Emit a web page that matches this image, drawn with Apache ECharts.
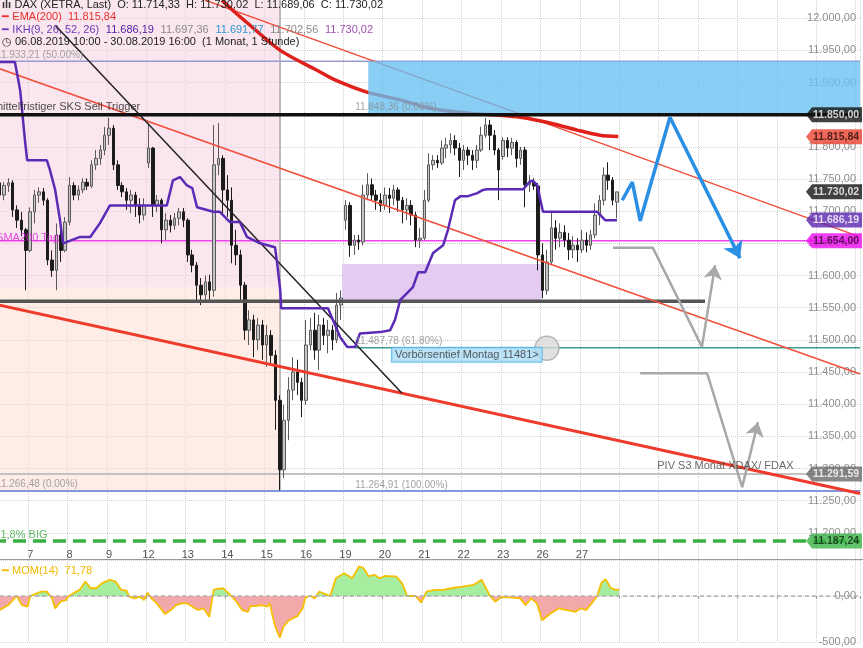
<!DOCTYPE html>
<html><head><meta charset="utf-8">
<script src="https://cdn.jsdelivr.net/npm/echarts@6/dist/echarts.min.js"></script>
<style>html,body{margin:0;padding:0;background:#fff}#c{width:863px;height:648px}</style>
</head><body><div id="c"></div><script>
const FONT = '"Liberation Sans", Arial, sans-serif';
const N_CATS = 198;
const tradingDays = ['06.08','07.08','08.08','09.08','12.08','13.08','14.08','15.08','16.08','19.08','20.08','21.08','22.08','23.08','26.08','27.08','28.08','29.08','30.08','02.09','03.09','04.09','05.09'];
const sessionHours = ['09:00','10:00','11:00','12:00','13:00','14:00','15:00','16:00','17:00'];
const firstDayHours = ['10:00','11:00','12:00','13:00','14:00','15:00','16:00','17:00'];
const labeledDays = ['07.08','08.08','09.08','12.08','13.08','14.08','15.08','16.08','19.08','20.08','21.08','22.08','23.08','26.08','27.08'];

const opens = [11733,11744,11725,11740,11744,11702,11686,11671,
11639,11699,11725,11730,11717,11624,11608,11663,11639,
11683,11740,11725,11733,11745,11739,11772,11782,11795,
11818,11829,11772,11740,11730,11717,11725,11709,11694,
11775,11798,11709,11717,11671,11686,11678,11689,11699,
11686,11632,11616,11585,11570,11590,11577,11772,11782,
11733,11717,11647,11632,11585,11515,11531,11500,11523,
11492,11507,11476,11406,11298,11375,11422,11450,11434,
11406,11492,11515,11484,11523,11507,11515,11500,11554,
11686,11709,11647,11655,11652,11725,11741,11725,11717,
11709,11725,11720,11733,11717,11702,11709,11694,11655,
11658,11717,11772,11779,11775,11798,11803,11810,11798,
11779,11795,11787,11779,11795,11818,11834,11818,11795,
11785,11810,11798,11807,11782,11795,11741,11745,11739,
11632,11577,11621,11674,11658,11667,11655,11640,11647,
11640,11655,11647,11663,11694,11717,11756,11748,11714];
const closes = [11744,11725,11740,11744,11702,11686,11671,11639,
11699,11725,11730,11717,11624,11608,11663,11639,11683,
11740,11725,11733,11745,11739,11772,11782,11795,11818,
11829,11772,11740,11730,11717,11725,11709,11694,11709,
11798,11709,11717,11671,11686,11678,11689,11699,11686,
11632,11616,11585,11570,11590,11577,11772,11782,11733,
11717,11647,11632,11585,11515,11531,11500,11523,11492,
11507,11476,11406,11298,11375,11422,11450,11434,11406,
11492,11515,11484,11523,11507,11515,11500,11554,11565,
11709,11647,11655,11652,11725,11741,11725,11717,11709,
11725,11720,11733,11717,11702,11709,11694,11655,11658,
11717,11772,11779,11775,11798,11803,11810,11798,11779,
11795,11787,11779,11795,11818,11834,11818,11795,11764,
11810,11798,11807,11782,11795,11741,11745,11739,11632,
11577,11621,11674,11658,11667,11655,11640,11647,11640,
11655,11647,11663,11694,11717,11756,11748,11717,11730];
const lows = [11725,11717,11717,11730,11691,11674,11661,11577,
11636,11681,11713,11709,11616,11598,11577,11621,11636,
11678,11717,11717,11728,11733,11736,11764,11772,11787,
11803,11764,11733,11722,11702,11697,11691,11681,11686,
11767,11691,11699,11650,11655,11667,11671,11678,11675,
11621,11605,11562,11554,11562,11562,11567,11756,11694,
11691,11619,11616,11562,11500,11492,11473,11484,11469,
11458,11461,11360,11266,11285,11344,11406,11414,11380,
11399,11484,11469,11453,11492,11479,11484,11495,11531,
11671,11629,11632,11640,11647,11717,11717,11702,11699,
11702,11697,11709,11699,11681,11686,11678,11644,11643,
11655,11714,11764,11767,11772,11782,11790,11787,11753,
11764,11772,11764,11767,11792,11814,11795,11787,11717,
11780,11784,11787,11768,11772,11706,11730,11733,11608,
11565,11570,11616,11640,11644,11644,11624,11627,11621,
11635,11636,11640,11658,11678,11709,11733,11709,11689];
const highs = [11751,11748,11745,11751,11748,11709,11699,11674,
11706,11733,11737,11736,11720,11639,11681,11678,11691,
11753,11745,11740,11751,11751,11779,11795,11803,11831,
11845,11834,11779,11745,11736,11733,11730,11720,11720,
11837,11800,11725,11720,11697,11694,11697,11705,11705,
11689,11640,11621,11596,11600,11601,11834,11837,11787,
11756,11737,11671,11640,11590,11546,11539,11534,11531,
11523,11515,11484,11414,11399,11442,11473,11469,11441,
11531,11534,11542,11539,11534,11531,11523,11573,11577,
11717,11714,11663,11663,11741,11759,11751,11733,11728,
11737,11736,11741,11737,11722,11720,11717,11699,11674,
11733,11790,11787,11787,11810,11814,11821,11818,11806,
11803,11800,11795,11803,11831,11845,11842,11826,11798,
11815,11815,11814,11810,11800,11800,11756,11751,11744,
11650,11640,11697,11686,11681,11678,11666,11661,11658,
11671,11667,11671,11712,11725,11768,11776,11753,11730];

// IKH line (bar index, value)
const ikhX = [-0.5,4.5,5.7,6.8,7.3,11.8,12.5,13.7,14.8,15.5,19.4,21.7,23.9,26.2,39.2,40.6,42.2,43.8,45.0,46.1,49.8,51.3,53.6,55.9,57.5,60.5,63.9,64.4,65.1,65.3,76.0,78.8,80.4,82.2,83.3,87.9,90.2,91.3,92.5,93.1,95.4,96.6,98.2,100.0,102.3,103.4,105.0,106.2,107.8,110.1,111.4,112.3,120.6,122.2,122.8,123.8,125.1,137.5,139.3,142.0];
const ikhY = [11932,11932,11888,11810,11779,11779,11764,11733,11686,11650,11660,11660,11681,11709,11709,11748,11753,11740,11736,11706,11699,11699,11683,11683,11660,11650,11644,11619,11577,11549,11549,11504,11489,11489,11510,11512,11515,11531,11562,11566,11582,11605,11605,11635,11647,11671,11717,11723,11723,11728,11733,11734,11734,11747,11747,11740,11699,11699,11686,11686];
// EMA(200)
const emaX = [51.8,54.3,58.2,65.1,73.5,77.6,84.9,92.5,99.3,108.5,115.3,119.9,126.7,132.9,138.1,142.3];
const emaY = [12028,12012,11989,11950,11919,11904,11885,11873,11860,11852,11849,11846,11837,11826,11818,11816];
// MOM(14)
const momX = [1.1,3.0,4.9,6.1,7.4,8.0,10.5,11.8,13.0,13.7,14.9,16.2,16.8,18.1,19.3,20.6,21.8,23.1,24.4,26.2,27.5,28.8,30.0,30.6,31.9,33.1,34.0,34.8,35.7,36.9,38.8,40.1,41.3,42.6,43.8,45.1,46.3,47.6,48.9,49.9,50.7,52.0,52.9,53.9,55.1,56.4,57.7,58.3,59.5,60.8,62.1,62.7,63.3,64.0,65.0,65.8,67.1,69.0,70.2,70.9,72.1,73.0,74.0,75.3,76.5,77.8,79.7,81.5,83.1,84.1,85.3,86.6,87.8,89.1,90.3,91.6,92.9,94.1,96.0,97.3,98.5,100.4,102.3,104.2,106.7,109.2,111.1,113.0,114.2,115.5,117.4,119.9,121.1,122.4,123.7,124.9,126.8,128.7,130.6,132.5,133.7,135.0,136.2,137.5,138.4,139.4,140.6,141.9,142.5];
const momY = [-153,-99,0,-99,-117,0,47,47,-26,-135,-62,-44,0,36,66,157,84,84,139,175,157,66,58,-7,-26,-7,-44,36,-26,-80,-197,-153,-99,-80,-80,-117,-153,-135,-226,66,77,84,47,0,-62,-153,-172,-110,-110,-99,-117,-80,-208,-336,-453,-336,-263,-219,-135,-15,0,-26,47,22,0,193,248,193,321,303,212,230,193,219,212,212,139,0,0,-73,47,66,66,84,102,120,175,0,-62,-15,-15,-26,-99,-26,-80,-263,-190,-135,-153,-172,-135,-153,-80,0,139,183,84,66,72];

// trend lines [[x1,v1],[x2,v2]]
const trendUpperA = [[47.9,12028],[197.5,11660]];
const trendUpperB = [[-0.5,11925],[197.5,11447]];
const trendLowerC = [[-0.5,11556],[197.5,11261]];
const trendBlackD = [[13.7,11989],[92.9,11417]];
// projections
const blueProjX = [143.2,145.5,147.3,154.1,170.1];
const blueProjY = [11717,11745,11685,11846,11627];
const grayProj1X = [141.1,150.2,161.4,164.4];
const grayProj1Y = [11643,11643,11489,11616];
const grayProj2X = [147.3,162.6,170.6,174.2];
const grayProj2Y = [11448,11448,11271,11372];
// levels
const fib1Low = 11266.48, fib1Mid = 11933.21, fib1Zone = 11581.2, fibLowBar = 65.05;
const sksTrigger = 11850, sma200 = 11654, neckline = 11560, neckEnd = 162.1;
const fib2Level618 = 11487.78, fib2Start = 82.2, fib2Low = 11264.91;
const pivS3 = 11291.59, big618 = 11187.24;
const purpleBox = [79.2,124.9,11560,11618];
const blueBox = [85.2,197.5,11850,11933.21];
const circlePt = [126.0,11487];
const preMarketLow = [90.6,11477];

const tags = [
  {v:11850.00, text:'11.850,00', bg:'#111111', fg:'#ffffff'},
  {v:11815.84, text:'11.815,84', bg:'#ea4430', fg:'#2a0a0a'},
  {v:11730.02, text:'11.730,02', bg:'#111111', fg:'#ffffff'},
  {v:11686.19, text:'11.686,19', bg:'#5a24b0', fg:'#ffffff'},
  {v:11654.00, text:'11.654,00', bg:'#ee10ee', fg:'#3a003a'},
  {v:11291.59, text:'11.291,59', bg:'#6a6a6a', fg:'#ffffff'},
  {v:11187.24, text:'11.187,24', bg:'#3cb448', fg:'#0a2a0a'}
];

function de(v){
  const s = Math.abs(v).toFixed(2).split('.');
  return (v<0?'-':'') + s[0].replace(/\B(?=(\d{3})+(?!\d))/g,'.') + ',' + s[1];
}

// categories
const categories = [];
const dayStart = {};
for (let d=0; d<tradingDays.length && categories.length<N_CATS; d++){
  dayStart[tradingDays[d]] = categories.length;
  const hrs = d===0 ? firstDayHours : sessionHours;
  for (const h of hrs){ if (categories.length<N_CATS) categories.push(tradingDays[d]+' '+h); }
}
const labelIdx = new Set(labeledDays.map(d=>dayStart[d]));
const splitIdx = new Set(Object.keys(dayStart).map(k=>dayStart[k]).filter(i=>i>0));

const S = [];
function pts(xs, ys){ return xs.map((x,i)=>[x, ys[i]]); }
function line(data, style, z, extra){
  S.push(Object.assign({type:'line', xAxisIndex:1, yAxisIndex:0, data, showSymbol:false, symbol:'none',
    lineStyle:style, z, silent:true}, extra||{}));
}
function rects(data, colors, z){
  S.push({type:'custom', xAxisIndex:1, yAxisIndex:0, z, silent:true, data, encode:{x:[0,1], y:[2,3]},
    renderItem(params, api){
      const a = api.coord([api.value(0), api.value(3)]);
      const b = api.coord([api.value(1), api.value(2)]);
      return {type:'rect', shape:{x:a[0], y:a[1], width:b[0]-a[0], height:b[1]-a[1]}, style:{fill:colors[params.dataIndex]}};
    }});
}
function arrowHead(x1,y1,x2,y2,color,size,z){
  S.push({type:'lines', coordinateSystem:'cartesian2d', xAxisIndex:1, yAxisIndex:0, z, silent:true,
    symbol:['none','arrow'], symbolSize:size,
    lineStyle:{color, width:0.01, opacity:1},
    data:[{coords:[[x1,y1],[x2,y2]]}]});
}

// backgrounds
rects([[-0.5,fibLowBar,fib1Low,fib1Zone],[-0.5,fibLowBar,fib1Zone,12050]], ['rgba(252,222,210,0.55)','rgba(246,206,222,0.5)'], 0);
rects([purpleBox], ['#e3cbf2'], 1);

// horizontal level lines
line([[-0.5,fib1Mid],[197.5,fib1Mid]], {color:'#9a9ad2', width:1.5}, 3);
line([[-0.5,sma200],[197.5,sma200]], {color:'#ee44ee', width:1.5}, 3);
line([[-0.5,pivS3],[197.5,pivS3]], {color:'#c2c2c2', width:2}, 3);
line([[-0.5,fib2Low],[197.5,fib2Low]], {color:'#8795de', width:2}, 3);
line([[fib2Start,fib2Level618],[197.5,fib2Level618]], {color:'#3f9c8c', width:1.5}, 3);
line([[fibLowBar,fib1Low],[fibLowBar,12050]], {color:'#a8a8a8', width:1.5}, 3);
line([[-0.5,big618],[197.5,big618]], {color:'#38b040', width:3.5, type:[13,7]}, 3);

// candles
S.push({type:'candlestick', xAxisIndex:0, yAxisIndex:0, z:4, silent:true, barWidth:3,
  data: opens.map((o,i)=>[o, closes[i], lows[i], highs[i]]),
  itemStyle:{color:'#c4c4c4', color0:'#1c1c1c', borderColor:'#5a5a5a', borderColor0:'#1c1c1c', borderWidth:1}});

line([[-0.5,neckline],[neckEnd,neckline]], {color:'#555555', width:3.5}, 5);
line(trendUpperA, {color:'#f0503c', width:1.5}, 5);
line(trendUpperB, {color:'#f0503c', width:1.5}, 5);
line(trendLowerC, {color:'#ee3b2b', width:3}, 5);
line(trendBlackD, {color:'#222222', width:1.5}, 5);
line(pts(emaX, emaY), {color:'#e0201a', width:3.5}, 5, {smooth:0.3});
line(pts(ikhX, ikhY), {color:'#5b2bb5', width:2.5}, 6);

// blue target zone over the lines
rects([blueBox], ['rgba(102,192,242,0.78)'], 7);
line([[-0.5,sksTrigger],[197.5,sksTrigger]], {color:'#111111', width:3.5}, 8);

// projections
line(pts(blueProjX, blueProjY), {color:'#2b8fe3', width:3.5}, 9);
arrowHead(blueProjX[3],blueProjY[3],blueProjX[4],blueProjY[4],'#2b8fe3',16,9);
line(pts(grayProj1X, grayProj1Y), {color:'#a8a8a8', width:2.5}, 9);
arrowHead(grayProj1X[2],grayProj1Y[2],grayProj1X[3],grayProj1Y[3],'#a8a8a8',14,9);
line(pts(grayProj2X, grayProj2Y), {color:'#a8a8a8', width:2.5}, 9);
arrowHead(grayProj2X[2],grayProj2Y[2],grayProj2X[3],grayProj2Y[3],'#a8a8a8',14,9);

// circle
S.push({type:'scatter', xAxisIndex:1, yAxisIndex:0, z:9, silent:true, clip:false, symbolSize:24,
  data:[circlePt], itemStyle:{color:'#d9d9d9', borderColor:'#a8a8a8', borderWidth:1.5}});

// text labels on levels
const levelLabels = [
  {x:0.2, v:fib1Mid, text:'11.933,21 (50.00%)', color:'#8c8c8c', dy:-6, size:10},
  {x:-0.3, v:sksTrigger, text:'mittelfristiger SKS Sell Trigger', color:'#222', dy:-8, size:11},
  {x:fib2Start, v:sksTrigger, text:'11.848,36 (0.00%)', color:'#8c8c8c', dy:-7, size:10},
  {x:0.2, v:sma200, text:'SMA200 Tag', color:'#e020e0', dy:-3, size:11},
  {x:fib2Start, v:fib2Level618, text:'11.487,78 (61.80%)', color:'#8c8c8c', dy:-6, size:10},
  {x:0.2, v:fib1Low, text:'11.266,48 (0.00%)', color:'#8c8c8c', dy:-6, size:10},
  {x:fib2Start, v:fib2Low, text:'11.264,91 (100.00%)', color:'#8c8c8c', dy:-6, size:10},
  {x:151.2, v:pivS3, text:'PIV S3 Monat XDAX/ FDAX', color:'#444', dy:-8, size:11},
  {x:-0.2, v:big618, text:'61,8% BIG', color:'#3aa840', dy:-6, size:11}
];
S.push({type:'scatter', xAxisIndex:1, yAxisIndex:0, z:10, silent:true, clip:false, symbolSize:0,
  data: levelLabels.map(l=>({value:[l.x,l.v], label:{show:true, position:'right', distance:0, formatter:l.text,
    color:l.color, fontSize:l.size, fontFamily:FONT, offset:[0,l.dy]}}))});
// annotation box
S.push({type:'scatter', xAxisIndex:1, yAxisIndex:0, z:10, silent:true, clip:false, symbolSize:0,
  data:[{value:preMarketLow, label:{show:true, position:'right', distance:0, formatter:'Vorbörsentief Montag 11481>',
    color:'#333', fontSize:11, fontFamily:FONT, backgroundColor:'#a9dcf6', borderColor:'#4fb3ea', borderWidth:1, padding:[2,3,1,3]}}]});
// price tags
S.push({type:'scatter', xAxisIndex:1, yAxisIndex:0, z:12, silent:true, clip:false,
  symbol:'path://M0,7.5L6,0L56,0L56,15L6,15Z', symbolSize:[56,15], symbolOffset:[-26,0], symbolKeepAspect:false,
  data: tags.map(t=>({value:[197.5,t.v], itemStyle:{color:t.bg},
    label:{show:true, position:'inside', formatter:t.text, color:t.fg, fontSize:10.5, fontWeight:'bold', fontFamily:FONT, offset:[2,0]}}))});

// momentum panel: fill green above zero, red below (hard stop at zero within the area's bounding box)
const momMax = Math.max.apply(null, momY), momMin = Math.min.apply(null, momY);
const zeroStop = momMax/(momMax-momMin);
const momFill = new echarts.graphic.LinearGradient(0,0,0,1,[
  {offset:0, color:'#a6eda0'},{offset:zeroStop, color:'#a6eda0'},
  {offset:zeroStop, color:'#f3a9a9'},{offset:1, color:'#f3a9a9'}]);
S.push({type:'line', xAxisIndex:3, yAxisIndex:1, data: pts(momX, momY), showSymbol:false, symbol:'none', silent:true, z:2,
  lineStyle:{width:0, opacity:0}, areaStyle:{opacity:1, color:momFill}});
S.push({type:'line', xAxisIndex:3, yAxisIndex:1, data: pts(momX, momY), showSymbol:false, symbol:'none', silent:true, z:3,
  lineStyle:{color:'#f5c000', width:1.8},
  markLine:{symbol:'none', silent:true, label:{show:false}, data:[{yAxis:0}], lineStyle:{color:'#b0b0b0', type:[4,3], width:1.5}}});

const dotted = {type:'dotted', color:'#d0d0d0', width:1};
const option = {
  animation:false,
  backgroundColor:'#ffffff',
  grid:[
    {left:-7, right:3, top:-14, height:579, containLabel:false, outerBoundsMode:'none'},
    {left:-7, right:3, top:560, height:82, containLabel:false, outerBoundsMode:'none'}
  ],
  xAxis:[
    {type:'category', gridIndex:0, data:categories, boundaryGap:true,
      axisLine:{show:false}, axisTick:{show:false},
      axisLabel:{inside:true, margin:5, interval:(i)=>labelIdx.has(i), formatter:(v)=>String(parseInt(v,10)), color:'#555', fontSize:11, fontFamily:FONT},
      splitLine:{show:true, interval:(i)=>splitIdx.has(i), lineStyle:dotted}},
    {type:'value', gridIndex:0, min:-0.5, max:N_CATS-0.5, show:false},
    {type:'category', gridIndex:1, data:categories, boundaryGap:true,
      axisLine:{show:false}, axisLabel:{show:false},
      axisTick:{show:true, interval:(i)=>splitIdx.has(i), length:3, lineStyle:{color:'#999'}},
      splitLine:{show:true, interval:(i)=>splitIdx.has(i), lineStyle:dotted}},
    {type:'value', gridIndex:1, min:-0.5, max:N_CATS-0.5, show:false}
  ],
  yAxis:[
    {type:'value', gridIndex:0, position:'right', min:11150, max:12050, interval:50,
      axisLine:{show:false}, axisTick:{show:true, length:3, lineStyle:{color:'#888'}},
      axisLabel:{inside:true, margin:4, color:'#8e8e8e', fontSize:11, fontFamily:FONT,
        formatter:(v)=> (v<11200||v>12000)?'':de(v)},
      splitLine:{show:true, showMinLine:false, lineStyle:dotted}},
    {type:'value', gridIndex:1, position:'right', min:-500, max:391, interval:500,
      axisLine:{show:false}, axisTick:{show:true, length:3, lineStyle:{color:'#888'}},
      axisLabel:{inside:true, margin:4, color:'#8e8e8e', fontSize:11, fontFamily:FONT,
        formatter:(v)=> (v%500===0)?de(v):''},
      splitLine:{show:true, lineStyle:dotted}}
  ],
  graphic:[
    {type:'line', z:50, silent:true, shape:{x1:0, y1:559.5, x2:863, y2:559.5}, style:{stroke:'#9a9a9a', lineWidth:1}},
    {type:'text', left:2, top:-1, z:50, silent:true, style:{
      text:'{ic|ılı} {t|DAX (XETRA, Last)  O: 11.714,33  H: 11.730,02  L: 11.689,06  C: 11.730,02}',
      rich:{ic:{fill:'#333', fontSize:11, fontFamily:FONT, fontWeight:'bold'}, t:{fill:'#222', fontSize:11, fontFamily:FONT}}}},
    {type:'text', left:2, top:11, z:50, silent:true, style:{
      text:'{r|━} {r|EMA(200)  11.815,84}',
      rich:{r:{fill:'#e8302a', fontSize:11, fontFamily:FONT}}}},
    {type:'text', left:2, top:24, z:50, silent:true, style:{
      text:'{p|━} {p|IKH(9, 26, 52, 26)}  {p2|11.686,19}  {g|11.697,36}  {b|11.691,77}  {g|11.702,56}  {v|11.730,02}',
      rich:{p:{fill:'#6a3ab8', fontSize:11, fontFamily:FONT}, p2:{fill:'#5420a8', fontSize:11, fontFamily:FONT},
        g:{fill:'#8a8a8a', fontSize:11, fontFamily:FONT}, b:{fill:'#2a9ad0', fontSize:11, fontFamily:FONT},
        v:{fill:'#a050b0', fontSize:11, fontFamily:FONT}}}},
    {type:'text', left:2, top:36, z:50, silent:true, style:{
      text:'{k|◷} {t|06.08.2019 10:00 - 30.08.2019 16:00  (1 Monat, 1 Stunde)}',
      rich:{k:{fill:'#333', fontSize:11, fontFamily:'DejaVu Sans'}, t:{fill:'#222', fontSize:11, fontFamily:FONT}}}},
    {type:'text', left:2, top:565, z:50, silent:true, style:{
      text:'━ MOM(14)  71,78', fill:'#f2b800', fontSize:11, fontFamily:FONT}}
  ],
  series:S
};
const chart = echarts.init(document.getElementById('c'), null, {renderer:'canvas'});
chart.setOption(option);
</script></body></html>
